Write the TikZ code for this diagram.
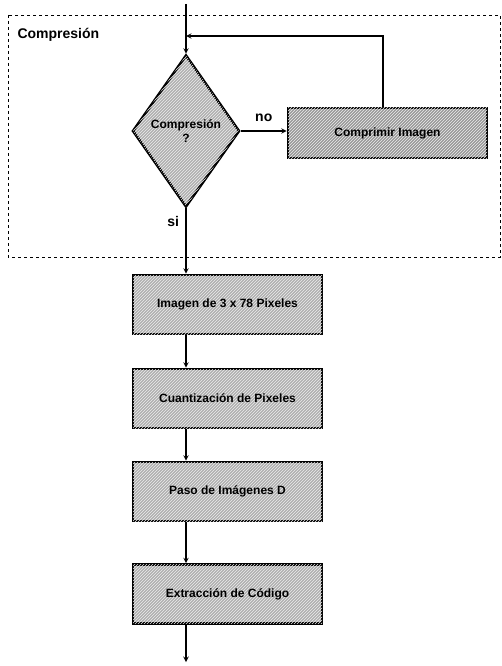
\documentclass[tikz,border=0pt]{standalone}
\usepackage{fontspec}
\setmainfont{Liberation Sans}
\usetikzlibrary{shapes.geometric,patterns}

\tikzset{
  relleno/.style={fill=gray!62, postaction={pattern=north east lines, pattern color=white!85!gray}},
  proceso/.style={rectangle, draw, line width=2.6pt, relleno, minimum width=189pt, minimum height=59pt,
    inner sep=0pt, font=\fontsize{12}{14}\selectfont\bfseries},
  decision/.style={diamond, draw, line width=2.6pt, relleno, minimum width=107pt, minimum height=152pt,
    inner sep=0pt, align=center, font=\fontsize{12}{14}\selectfont\bfseries},
  flujo/.style={line width=1.4pt, ->, >=stealth},
  etiqueta/.style={font=\fontsize{14}{16}\selectfont\bfseries}
}

\begin{document}
\begin{tikzpicture}[x=1pt,y=-1pt]
                        \useasboundingbox (0,0) rectangle (502,666);
                        % Marco
                        \draw[dashed, line width=0.7pt] (8,15) rectangle (500,257);
                        \node[etiqueta, anchor=west] (marco) at (14,35) {Compresión};

                        % Nodes
                        \coordinate (entrada) at (186,4);
                        \node[decision] (compr) at (186,131) {Compresión\\?};
                        \node[proceso, fill=gray!80, minimum width=199pt, minimum height=50pt] (comprimir) at (387.5,133) {Comprimir Imagen};
                        \node[proceso] (imagen) at (227.5,304.5) {Imagen de 3 x 78 Pixeles};
                        \node[proceso] (cuant) at (227.5,398.5) {Cuantización de Pixeles};
                        \node[proceso] (paso) at (227.5,491.5) {Paso de Imágenes D};
                        \node[proceso] (extrac) at (227.5,594) {Extracción de Código};
                        \coordinate (salida) at (186,662);
                        \coordinate (retorno) at (186,36);

                        % Edges
                        \draw[flujo] (entrada) -- (compr.north);
                        \draw[flujo] (compr.east) -- node[etiqueta, above=5pt] {no} (comprimir.west |- compr.east);
                        \draw[flujo] (comprimir.north -| 383,0) |- (retorno);
                        \draw[flujo] (compr.south) -- node[etiqueta, pos=0.2, left=3pt] {si} (compr.south |- imagen.north);
                        \draw[flujo] (compr.south |- imagen.south) -- (compr.south |- cuant.north);
                        \draw[flujo] (compr.south |- cuant.south) -- (compr.south |- paso.north);
                        \draw[flujo] (compr.south |- paso.south) -- (compr.south |- extrac.north);
                        \draw[flujo] (compr.south |- extrac.south) -- (salida);
                    \end{tikzpicture}
\end{document}
